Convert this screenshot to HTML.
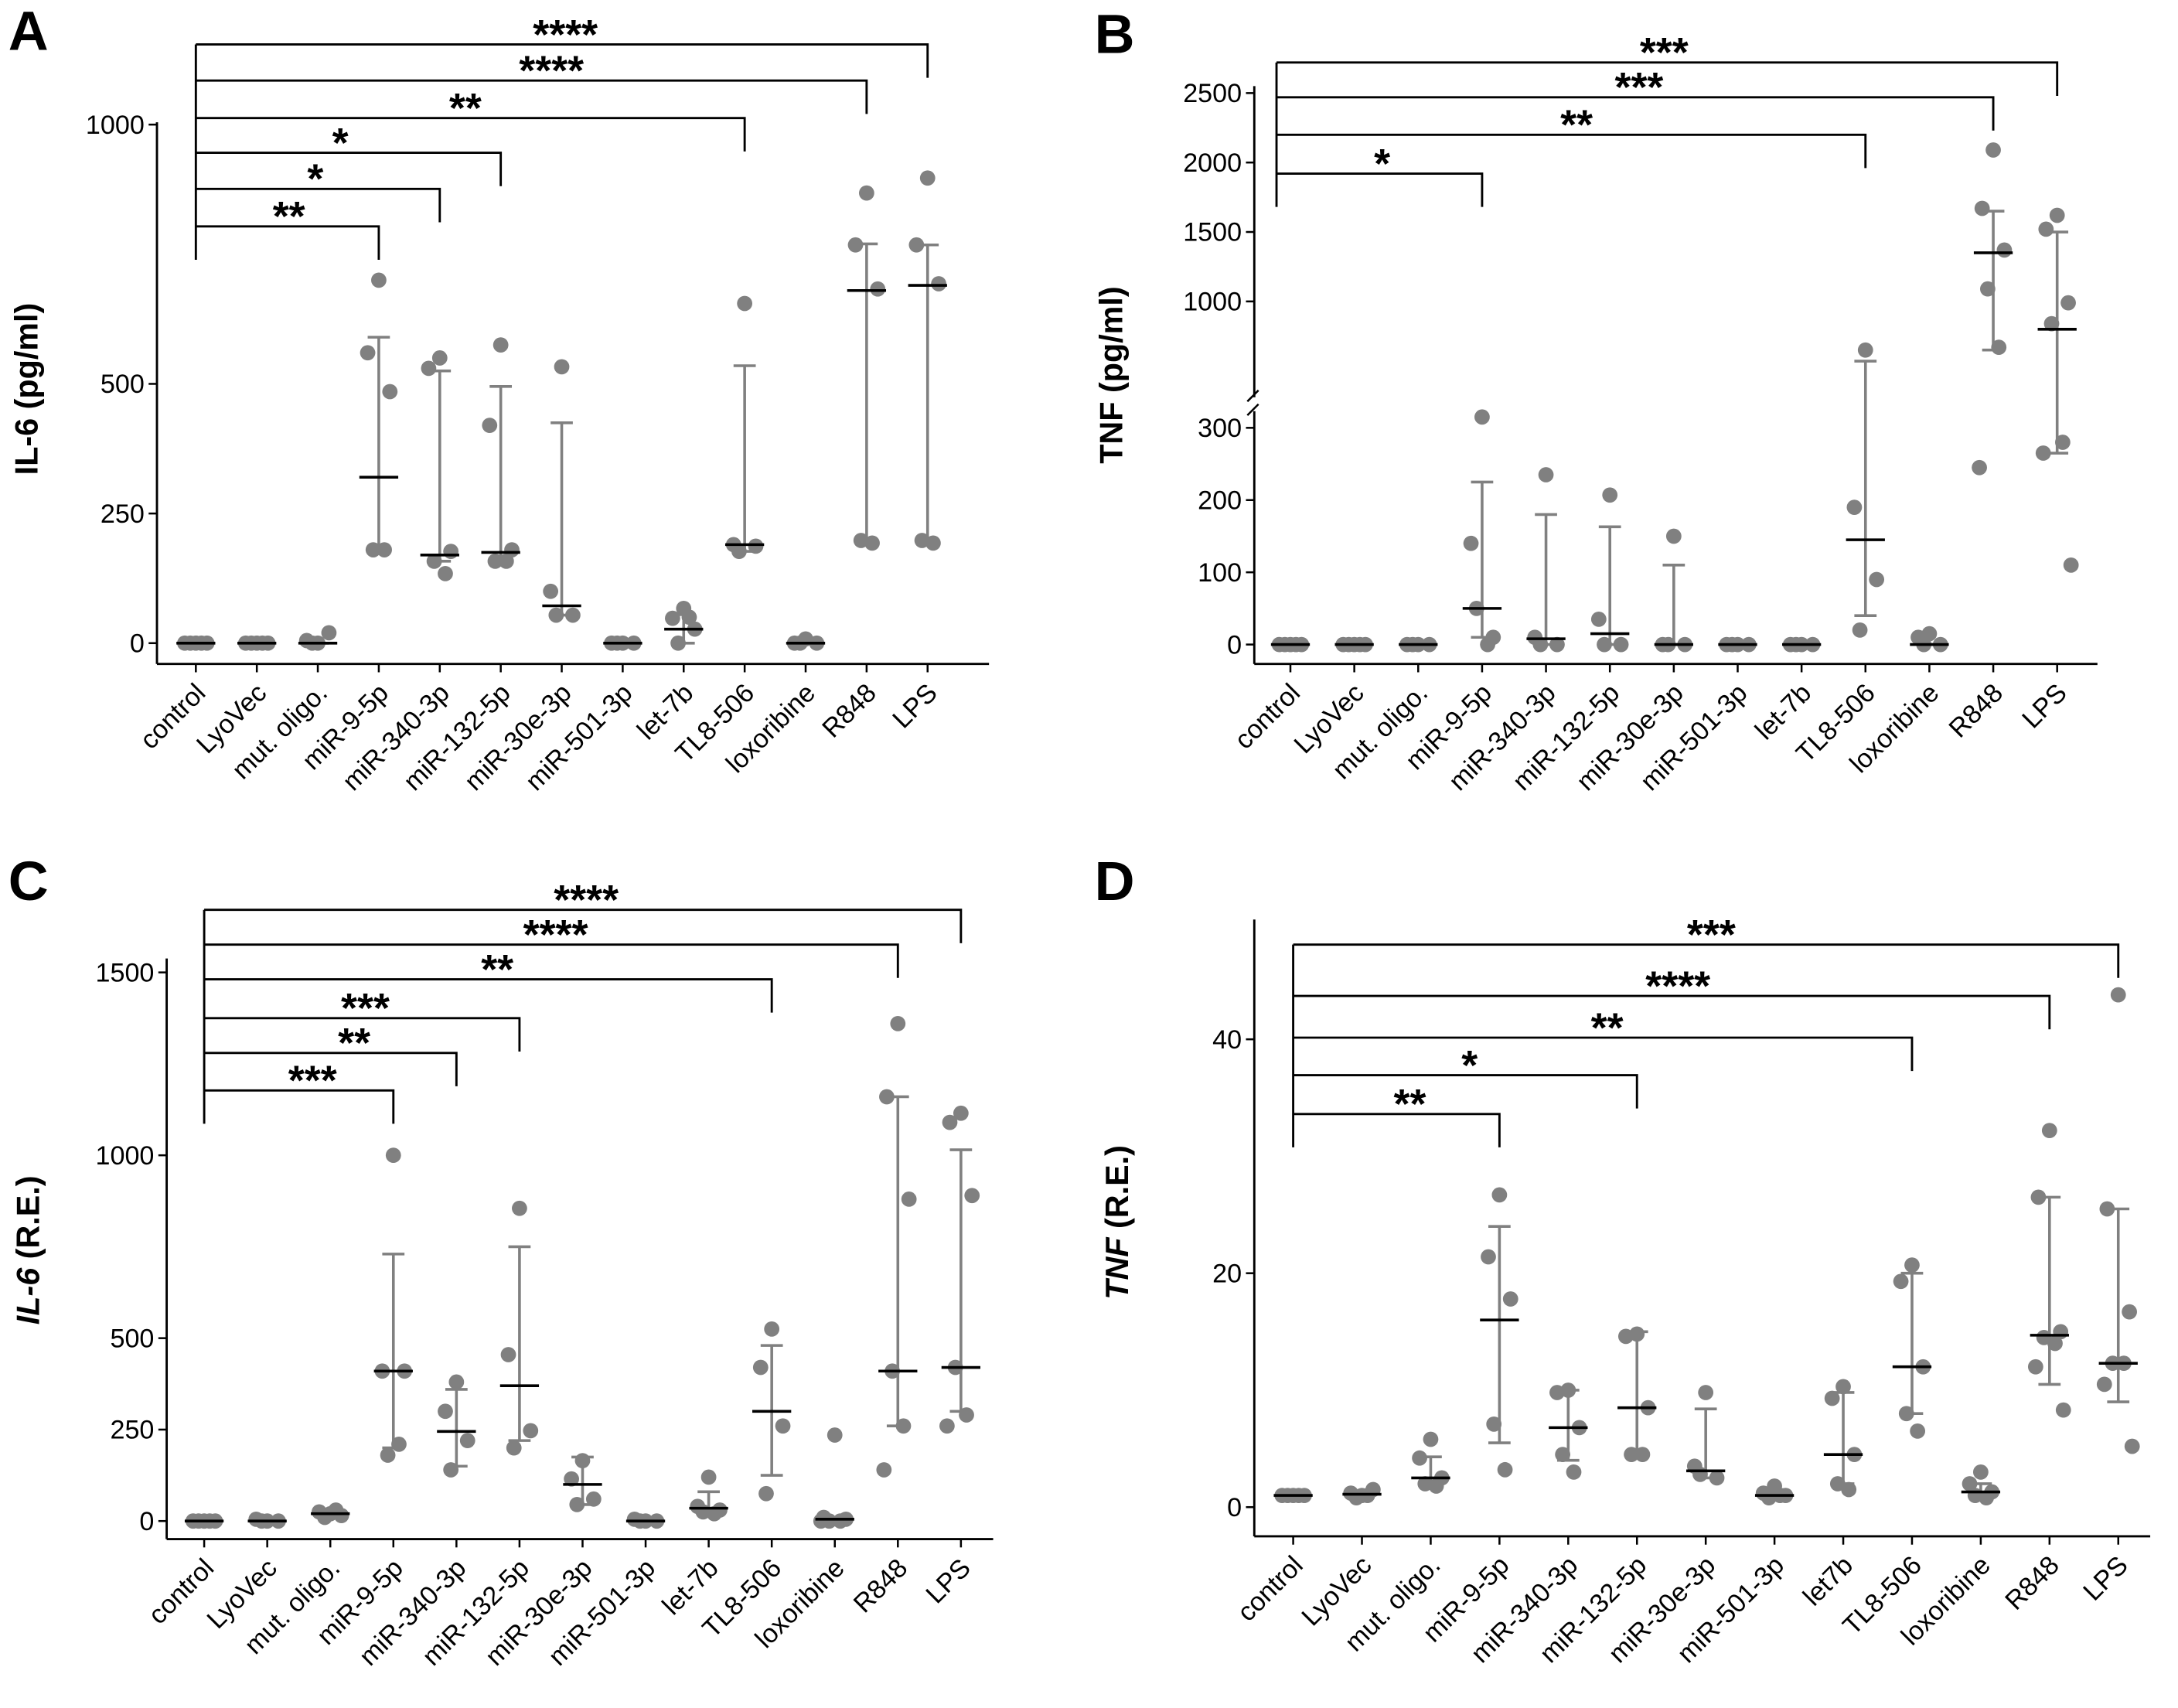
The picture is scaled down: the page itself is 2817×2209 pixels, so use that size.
<!DOCTYPE html>
<html><head><meta charset="utf-8"><style>
html,body{margin:0;padding:0;background:#fff;}
svg{display:block;font-family:"Liberation Sans",Arial,sans-serif;}
</style></head><body>
<svg id="fig" width="2817" height="2209" viewBox="0 0 1568 1229.6" preserveAspectRatio="none" xmlns="http://www.w3.org/2000/svg"></svg>
<script>
const categories=["control","LyoVec","mut. oligo.","miR-9-5p","miR-340-3p","miR-132-5p","miR-30e-3p","miR-501-3p","let-7b","TL8-506","loxoribine","R848","LPS"];
const categoriesD=["control","LyoVec","mut. oligo.","miR-9-5p","miR-340-3p","miR-132-5p","miR-30e-3p","miR-501-3p","let7b","TL8-506","loxoribine","R848","LPS"];
// Panel A IL-6 pg/ml
const ptsA=[[0,0,0,0,0],[0,0,0,0,0],[0,5,20,0],[700,560,485,180,180],[550,530,177,158,134],[575,420,180,158,158],[533,100,54,54],[0,0,0,0],[67,48,27,0,50],[655,190,187,177],[8,0,0,0],[868,768,683,198,193],[897,768,693,198,193]];
const medA=[0,0,0,320,170,175,72,0,27,190,0,680,690];
const hiA=[0,0,0,590,525,495,425,0,55,535,0,770,768];
const loA=[0,0,0,180,158,158,54,0,0,177,0,193,193];
const ticksA=[0,250,500,1000];
// Panel B TNF pg/ml
const ptsB=[[0,0,0,0,0],[0,0,0,0,0],[0,0,0,0],[315,140,10,50,0],[235,10,0,0],[207,35,0,0],[150,0,0,0],[0,0,0,0],[0,0,0,0],[650,190,90,20],[15,10,0,0],[2090,1670,1370,1090,670,245],[1620,1520,990,840,280,265,110]];
const medB=[0,0,0,50,8,15,0,0,0,145,0,1350,800];
const hiB=[0,0,0,225,180,163,110,0,0,570,0,1650,1500];
const loB=[0,0,0,10,0,0,0,0,0,40,0,650,265];
const ticksB=[0,100,200,300,1000,1500,2000,2500];
// Panel C IL-6 R.E.
const ptsC=[[0,0,0,0,0],[0,5,0,0],[20,25,15,10,30],[1000,410,410,180,210],[380,300,220,140],[855,455,247,200],[165,115,60,45],[0,5,0,0],[120,40,30,25,20],[525,420,260,75],[235,10,5,0,0,0],[1360,1160,880,410,260,140],[1115,1090,890,420,290,260]];
const medC=[0,0,20,410,245,370,100,0,35,300,5,410,420];
const hiC=[0,0,25,730,360,750,175,0,80,480,5,1160,1015];
const loC=[0,0,15,200,150,220,45,0,20,125,0,260,300];
const ticksC=[0,250,500,1000,1500];
// Panel D TNF R.E.
const ptsD=[[1,1,1,1,1],[1,1.2,1.5,0.8,1],[5.8,4.2,2.5,2,1.8],[26.7,21.4,17.8,7.1,3.2],[10,9.8,6.8,4.5,3],[14.8,14.6,8.5,4.5,4.5],[9.8,3.5,2.5,2.8],[1.8,1.2,1,0.8,1],[10.3,9.3,4.5,2,1.5],[20.7,19.3,12,8,6.5],[3,2,1.3,1,0.8],[32.2,26.5,15,14.5,14,12,8.3],[43.8,25.5,16.7,12.3,12.3,10.5,5.2]];
const medD=[1,1.1,2.5,16,6.8,8.5,3.1,1,4.5,12,1.3,14.7,12.3];
const hiD=[1,1.2,4.3,24,10,15,8.4,1.5,9.8,20,2,26.5,25.5];
const loD=[1,0.9,2,5.5,4,4.5,2.5,0.9,2,8,1,10.5,9];
const ticksD=[0,20,40];

const NS="http://www.w3.org/2000/svg";
const svg=document.getElementById('fig');
function mk(tag,attrs,parent,text){const e=document.createElementNS(NS,tag);for(const k in attrs)e.setAttribute(k,attrs[k]);if(text!==undefined)e.textContent=text;(parent||svg).appendChild(e);return e;}
const jit=[0,-8,8,-4,4,-10,10];

function panel(cfg){
  const g=mk('g',{});
  
  
  const X=i=>cfg.x0+i*cfg.dx;
  const Y=cfg.y;
  const ya=mk('line',{x1:cfg.ax,x2:cfg.ax,y1:cfg.ytop,y2:cfg.ybot,stroke:'#000','stroke-width':1.6},g);
  
  const xa=mk('line',{x1:cfg.ax,x2:cfg.xend,y1:cfg.ybot,y2:cfg.ybot,stroke:'#000','stroke-width':1.6},g);
  
  if(cfg.brk){
    mk('rect',{x:cfg.ax-4,y:cfg.brk[0],width:8,height:cfg.brk[1]-cfg.brk[0],fill:'#fff'},g);
    mk('line',{x1:cfg.ax-5,x2:cfg.ax+3,y1:cfg.brk[0]+3,y2:cfg.brk[0]-5,stroke:'#000','stroke-width':1.4},g);
    mk('line',{x1:cfg.ax-5,x2:cfg.ax+3,y1:cfg.brk[1]+3,y2:cfg.brk[1]-5,stroke:'#000','stroke-width':1.4},g);
  }
  cfg.ticks.forEach(t=>{
    mk('line',{x1:cfg.ax-6,x2:cfg.ax,y1:Y(t),y2:Y(t),stroke:'#000','stroke-width':1.4},g);
    const tl=mk('text',{x:cfg.ax-9,y:Y(t)+6.5,'text-anchor':'end','font-size':19},g,String(t));
    
  });
  cfg.cats.forEach((c,i)=>{
    mk('line',{x1:X(i),x2:X(i),y1:cfg.ybot,y2:cfg.ybot+6,stroke:'#000','stroke-width':1.4},g);
    const lx=X(i)+8, ly=cfg.ybot+22;
    const t=mk('text',{x:lx,y:ly,'text-anchor':'end','font-size':19,transform:`rotate(-45 ${lx} ${ly})`},g,c);
    
  });
  cfg.cats.forEach((c,i)=>{
    const x=X(i);
    const vl=mk('line',{x1:x,x2:x,y1:Y(cfg.hi[i]),y2:Y(cfg.lo[i]),stroke:'#808080','stroke-width':2},g);
    
    [cfg.hi[i],cfg.lo[i]].forEach(v=>mk('line',{x1:x-8,x2:x+8,y1:Y(v),y2:Y(v),stroke:'#808080','stroke-width':2},g));
    cfg.pts[i].forEach((v,k)=>{
      const p=mk('circle',{cx:x+jit[k%jit.length],cy:Y(v),r:5.5,fill:'#808080'},g);
      
    });
    const m=mk('line',{x1:x-14,x2:x+14,y1:Y(cfg.med[i]),y2:Y(cfg.med[i]),stroke:'#000','stroke-width':2},g);
    
  });
  const bx=cfg.bx!==undefined?cfg.bx:X(0);
  const top=Math.min(...cfg.br.map(b=>b[0]));
  const bot=Math.max(...cfg.br.map(b=>b[0]))+24;
  mk('line',{x1:bx,x2:bx,y1:top,y2:bot,stroke:'#000','stroke-width':1.6},g);
  cfg.br.forEach(b=>{
    const [by,to,stars,tx]=b;
    const bl=mk('path',{d:`M${bx} ${by} H${X(to)} V${by+24}`,fill:'none',stroke:'#000','stroke-width':1.6},g);
    
    const st=mk('text',{x:tx,y:by+3,'text-anchor':'middle','font-size':30,'font-weight':'bold'},g,stars);
    
  });
  const yt=mk('text',{x:cfg.yl[0],y:cfg.yl[1],'text-anchor':'middle','font-size':23,'font-weight':'bold',transform:`rotate(-90 ${cfg.yl[0]} ${cfg.yl[1]})`},g);
  
  cfg.ytitle.forEach(([s,it])=>{mk('tspan',it?{'font-style':'italic'}:{},yt,s);});
  const L=mk('text',{x:cfg.letter[0],y:cfg.letter[1],'font-size':40,'font-weight':'bold'},g,cfg.id);
  
}

panel({id:'A',cats:categories,x0:141,dx:43.9,ax:113,xend:712,ytop:88,ybot:478,
  y:v=>463-v*0.3733,ticks:ticksA,pts:ptsA,med:medA,hi:hiA,lo:loA,
  br:[[163,3,'**',208],[136,4,'*',227],[110,5,'*',245],[85,9,'**',335],[58,11,'****',397],[32,12,'****',407]],
  yl:[27,280],ytitle:[['IL-6 (pg/ml)',false]],letter:[6,36]});
panel({id:'B',cats:categories,x0:929,dx:46,ax:903,xend:1510,ytop:62,ybot:478,brk:[286,296],bx:919,
  y:v=>v<=350?464-v*0.52:282-(v-350)*0.1,ticks:ticksB,pts:ptsB,med:medB,hi:hiB,lo:loB,
  br:[[125,3,'*',995],[97,9,'**',1135],[70,11,'***',1180],[45,12,'***',1198]],
  yl:[808,270],ytitle:[['TNF (pg/ml)',false]],letter:[788,38]});
panel({id:'C',cats:categories,x0:147,dx:45.4,ax:120,xend:715,ytop:690,ybot:1108,
  y:v=>1095-v*0.2633,ticks:ticksC,pts:ptsC,med:medC,hi:hiC,lo:loC,
  br:[[785,3,'***',225],[758,4,'**',255],[733,5,'***',263],[705,9,'**',358],[680,11,'****',400],[655,12,'****',422]],
  yl:[28,900],ytitle:[['IL-6',true],[' (R.E.)',false]],letter:[6,648]});
panel({id:'D',cats:categoriesD,x0:931,dx:49.5,ax:903,xend:1548,ytop:662,ybot:1106,
  y:v=>1085-v*8.42,ticks:ticksD,pts:ptsD,med:medD,hi:hiD,lo:loD,
  br:[[802,3,'**',1015],[774,5,'*',1058],[747,9,'**',1157],[717,11,'****',1208],[680,12,'***',1232]],
  yl:[812,880],ytitle:[['TNF',true],[' (R.E.)',false]],letter:[788,648]});
</script>
</body></html>
